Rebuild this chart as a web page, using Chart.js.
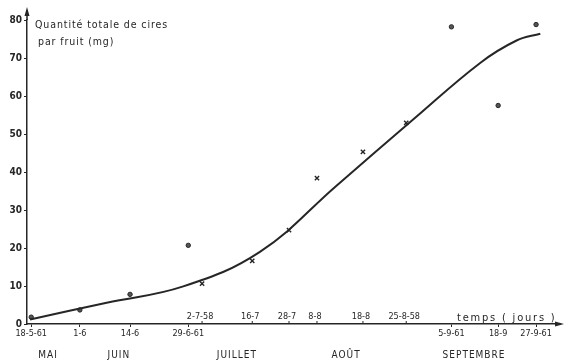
<!DOCTYPE html>
<html>
<head>
<meta charset="utf-8">
<script src="https://cdn.jsdelivr.net/npm/chart.js"></script>
<style>
  html, body { margin: 0; padding: 0; background: #fff; }
</style>
</head>
<body>
<canvas id="cires" width="564" height="362"></canvas>
<script>
// 1961 samples (circles), dates below the axis
const dates61 = ["18-5-61", "1-6", "14-6", "29-6-61", "5-9-61", "18-9", "27-9-61"];
const days61 = [0.3, 13, 26.1, 41.3, 110, 122.2, 132.1];
const wax61 = [1.8, 3.7, 7.8, 20.7, 78.2, 57.5, 78.8];

// 1958 samples (crosses), dates above the axis
const dates58 = ["2-7-58", "16-7", "28-7", "8-8", "18-8", "25-8-58"];
const days58 = [44.9, 58, 67.6, 74.9, 86.9, 98.2];
const wax58 = [10.6, 16.6, 24.7, 38.4, 45.3, 52.9];

// fitted curve
const curveDays = [0, 20, 40, 60, 80, 100, 117.5, 127, 133.2];
const curveWax = [1.2, 5.6, 9.9, 19, 36.4, 53.8, 68.7, 74.6, 76.4];

const months = ["MAI", "JUIN", "JUILLET", "AOÛT", "SEPTEMBRE"];
const monthDays = [4.7, 23.2, 54, 82.5, 115.9];

const yTicks = [0, 10, 20, 30, 40, 50, 60, 70, 80];

const INK = "#262626";
const FONT = "'DejaVu Sans Condensed', 'DejaVu Sans', sans-serif";

const pts = (xs, ys) => xs.map((x, i) => ({ x: x, y: ys[i] }));

const extras = {
    id: "extras",
    afterDraw(chart) {
        const ctx = chart.ctx;
        const x = chart.scales.x, y = chart.scales.y;
        const area = chart.chartArea;
        const y0 = y.getPixelForValue(0);
        ctx.save();
        ctx.strokeStyle = INK;
        ctx.fillStyle = INK;
        ctx.lineWidth = 1.5;

        // axis extensions with arrow heads
        ctx.beginPath();
        ctx.moveTo(area.left, area.top);
        ctx.lineTo(area.left, 10);
        ctx.moveTo(area.right, y0);
        ctx.lineTo(561, y0);
        ctx.stroke();
        ctx.beginPath();
        ctx.moveTo(area.left, 7);
        ctx.lineTo(area.left - 2.5, 16);
        ctx.lineTo(area.left + 2.5, 16);
        ctx.closePath();
        ctx.moveTo(564, y0);
        ctx.lineTo(555, y0 - 2.5);
        ctx.lineTo(555, y0 + 2.5);
        ctx.closePath();
        ctx.fill();

        // 1958 ticks and labels above the axis
        ctx.lineWidth = 1;
        ctx.font = "9px " + FONT;
        ctx.textAlign = "center";
        ctx.textBaseline = "middle";
        dates58.forEach((d, i) => {
            const px = x.getPixelForValue(days58[i]);
            ctx.beginPath();
            ctx.moveTo(px, y0);
            ctx.lineTo(px, y0 - 3);
            ctx.stroke();
            ctx.fillText(d, px - 2, y0 - 7);
        });

        // month names
        ctx.font = "10px " + FONT;
        ctx.letterSpacing = "1px";
        months.forEach((m, i) => {
            ctx.fillText(m, x.getPixelForValue(monthDays[i]), 355);
        });

        // axis titles
        ctx.textAlign = "left";
        ctx.font = "11px " + FONT;
        ctx.letterSpacing = "1.8px";
        ctx.fillText("temps ( jours )", 457, y0 - 6);
        ctx.font = "10.5px " + FONT;
        ctx.letterSpacing = "0.9px";
        ctx.fillText("Quantité totale de cires", 35, 25);
        ctx.fillText("par fruit (mg)", 38, 42);
        ctx.restore();
    }
};

new Chart(document.getElementById("cires").getContext("2d"), {
    type: "scatter",
    data: {
        datasets: [
            {
                label: "courbe",
                type: "line",
                data: pts(curveDays, curveWax),
                borderColor: INK,
                borderWidth: 2,
                pointRadius: 0,
                tension: 0.4,
                fill: false
            },
            {
                label: "1961",
                data: pts(days61, wax61),
                pointStyle: "circle",
                pointRadius: 2.2,
                backgroundColor: "#555",
                borderColor: INK,
                borderWidth: 1
            },
            {
                label: "1958",
                data: pts(days58, wax58),
                pointStyle: "crossRot",
                pointRadius: 3,
                borderColor: INK,
                borderWidth: 1.4
            }
        ]
    },
    options: {
        responsive: false,
        animation: false,
        layout: { padding: { top: 20, right: 8, left: 0, bottom: 0 } },
        plugins: {
            legend: { display: false },
            tooltip: { enabled: false }
        },
        scales: {
            x: {
                type: "linear",
                min: -0.8,
                max: 137.3,
                afterFit: s => { s.height = 38; },
                afterBuildTicks: s => { s.ticks = days61.map(v => ({ value: v })); },
                border: { color: INK, width: 1.5 },
                grid: { drawOnChartArea: false, tickLength: 3, color: INK, tickWidth: 1 },
                ticks: {
                    autoSkip: false,
                    maxRotation: 0,
                    padding: 1,
                    color: INK,
                    font: { family: FONT, size: 9 },
                    callback: (v, i) => dates61[i]
                }
            },
            y: {
                min: 0,
                max: 80,
                afterFit: s => { s.width = 27; },
                afterBuildTicks: s => { s.ticks = yTicks.map(v => ({ value: v })); },
                border: { color: INK, width: 1.5 },
                grid: { drawOnChartArea: false, tickLength: 3, color: INK, tickWidth: 1 },
                ticks: {
                    padding: 2,
                    color: INK,
                    font: { family: FONT, size: 10, weight: "bold" }
                }
            }
        }
    },
    plugins: [extras]
});
</script>
</body>
</html>
